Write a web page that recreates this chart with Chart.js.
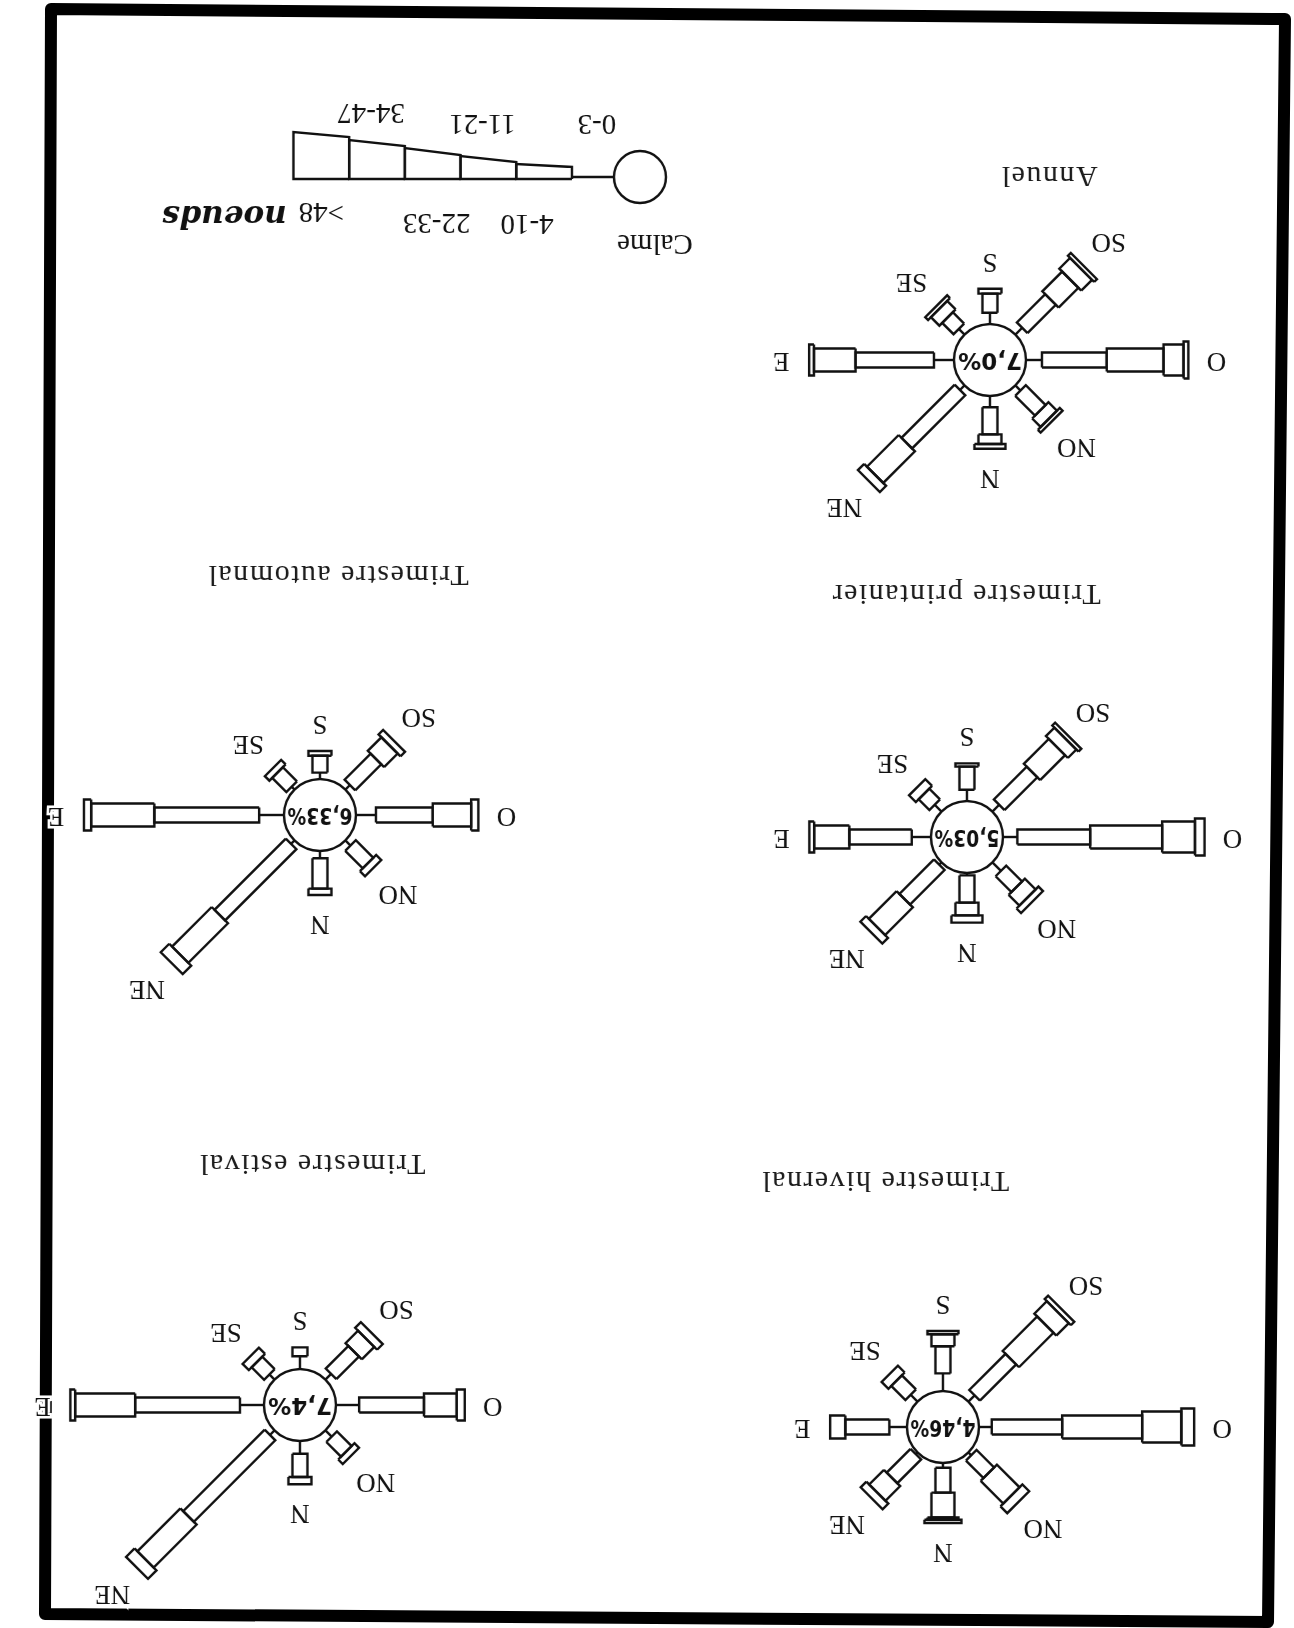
<!DOCTYPE html>
<html><head><meta charset="utf-8">
<script src="https://cdn.jsdelivr.net/npm/chart.js@4.4.1/dist/chart.umd.min.js"></script>
<style>
html,body{margin:0;padding:0;background:#fff;overflow:hidden;}
#page{position:relative;width:1294px;height:1628px;overflow:hidden;background:#fff;}
#sheet{position:absolute;left:0;top:0;width:1294px;height:1628px;transform:rotate(180deg);transform-origin:647px 814px;}
#sheet canvas{position:absolute;}
.title{position:absolute;font-family:"Liberation Serif",serif;font-size:30px;letter-spacing:1.5px;color:#1a1a1a;transform:translate(-50%,-50%);white-space:nowrap;}
#frame{position:absolute;left:0;top:0;pointer-events:none;}
</style></head><body>
<div id="page">
  <svg id="frame" width="1294" height="1628"><polygon points="51,9 1285,19 1268,1622 45,1614" fill="none" stroke="#000" stroke-width="12" stroke-linejoin="round"/></svg>
  <div id="sheet"></div>
</div>
<script>
// ---------- DATA ----------
const directions = ["N","NE","E","SE","S","SO","O","NO"];
const speedClasses = ["0-3","4-10","11-21","22-33","34-47",">48"];
const roseTitles = ["Annuel","Trimestre printanier","Trimestre automnal","Trimestre hivernal","Trimestre estival"];
const calmPercent = [7.0, 5.03, 6.33, 4.46, 7.4];
// frequency (%) per direction (rows: N..NO) and speed class (cols: 0-3 .. >48)
const annuel = [
  [1.4, 3.4, 1.2, 0.6, 0, 0],
  [0.8, 9.4, 5.6, 1.1, 0, 0],
  [2.5, 9.8, 5.2, 0.6, 0, 0],
  [1.0, 2.0, 1.5, 0.5, 0, 0],
  [1.4, 2.4, 0.6, 0, 0, 0],
  [1.2, 5.0, 3.5, 1.9, 0.5, 0],
  [2.0, 8.1, 7.1, 2.5, 0.6, 0],
  [0.9, 3.5, 1.5, 0.5, 0, 0]
];
const printanier = [
  [0.3, 3.4, 1.6, 0.9, 0, 0],
  [0.4, 6.1, 4.9, 1.0, 0, 0],
  [2.4, 7.8, 4.4, 0.6, 0, 0],
  [1.2, 1.9, 1.2, 0, 0, 0],
  [1.4, 2.9, 0.4, 0, 0, 0],
  [1.2, 5.8, 4.4, 1.5, 0.5, 0],
  [1.8, 9.1, 9.0, 4.1, 1.2, 0],
  [1.5, 2.8, 1.9, 0.8, 0, 0]
];
const automnal = [
  [0.9, 3.8, 0.8, 0, 0, 0],
  [0.6, 12.6, 7.0, 1.5, 0, 0],
  [3.1, 13.1, 7.9, 0.9, 0, 0],
  [0.5, 2.5, 0.8, 0, 0, 0],
  [0.8, 2.1, 0.6, 0, 0, 0],
  [0.8, 4.6, 2.4, 0.8, 0, 0],
  [2.5, 7.1, 4.8, 0.9, 0, 0],
  [0.9, 3.1, 0.9, 0, 0, 0]
];
const hivernal = [
  [0.6, 3.1, 3.1, 0.3, 0.4, 0],
  [0.3, 4.2, 2.6, 1.0, 0, 0],
  [2.2, 5.5, 1.9, 0, 0, 0],
  [1.2, 2.5, 1.2, 0, 0, 0],
  [2.2, 3.4, 1.5, 0.4, 0, 0],
  [1.1, 6.4, 6.1, 2.2, 0.6, 0],
  [1.6, 8.8, 10.0, 4.9, 1.6, 0],
  [0.5, 3.1, 4.0, 1.2, 0, 0]
];
const estival = [
  [1.6, 2.9, 0.9, 0, 0, 0],
  [0.8, 14.4, 7.6, 1.5, 0, 0],
  [3.0, 13.1, 7.5, 0.6, 0, 0],
  [0.9, 2.2, 1.1, 0, 0, 0],
  [1.6, 1.1, 0, 0, 0, 0],
  [1.0, 4.0, 2.2, 1.0, 0, 0],
  [2.9, 8.1, 4.1, 1.0, 0, 0],
  [1.1, 2.6, 0.8, 0, 0, 0]
];
const roses = [annuel, printanier, automnal, hivernal, estival];

// ---------- LAYOUT / STYLE (page is drawn upright, then turned 180deg like the scan) ----------
const roseLayout = [
  {cx:304, cy:1268, tx:245, ty:1451},
  {cx:327, cy:791,  tx:328, ty:1033},
  {cx:974, cy:813,  tx:956, ty:1052},
  {cx:351, cy:201,  tx:409, ty:446},
  {cx:994, cy:223,  tx:982, ty:463}
];
const SIZE = 640, RANGE = 40, PPU = SIZE / (2 * RANGE);
const CALM_R_PX = 36;
const WIDTH_PX = [2, 15, 23, 31, 37, 44];
const LINE_W = 2.4;
const ANGLE = {N:90, NE:45, E:0, SE:-45, S:-90, SO:-135, O:180, NO:135};
const INK = '#111';

function fmtPct(v){
  const one = Math.abs(Math.round(v*10) - v*10) < 1e-9;
  return v.toFixed(one ? 1 : 2).replace('.', ',') + '%';
}

function roseDatasets(rows){
  const ds = [];
  const r0 = CALM_R_PX / PPU;
  rows.forEach((vals, i) => {
    const a = ANGLE[directions[i]] * Math.PI / 180;
    const ux = Math.cos(a), uy = Math.sin(a), vx = -uy, vy = ux;
    let r = r0;
    vals.forEach((len, k) => {
      if (len <= 0) return;
      const r1 = r + len;
      if (k === 0) {
        ds.push({data:[{x:r*ux, y:r*uy},{x:r1*ux, y:r1*uy}], showLine:true, borderColor:INK, borderWidth:LINE_W, pointRadius:0, fill:false});
      } else {
        const h = WIDTH_PX[k] / PPU / 2;
        const pts = [[r,-h],[r1,-h],[r1,h],[r,h],[r,-h]].map(([rr,hh]) => ({x:rr*ux + hh*vx, y:rr*uy + hh*vy}));
        ds.push({data:pts, showLine:true, borderColor:INK, borderWidth:LINE_W, pointRadius:0, fill:false});
      }
      r = r1;
    });
  });
  ds.push({data:[{x:0,y:0}], showLine:false, pointRadius:CALM_R_PX, pointBackgroundColor:'#fff', pointBorderColor:INK, pointBorderWidth:LINE_W, borderColor:INK, backgroundColor:'#fff'});
  return ds;
}

function roseTextPlugin(rows, calm){
  return {
    id:'roseText',
    afterDatasetsDraw(chart){
      const {ctx, scales:{x, y}} = chart;
      ctx.save();
      ctx.textAlign = 'center';
      ctx.textBaseline = 'middle';
      ctx.font = '27px "Liberation Serif", serif';
      ctx.lineWidth = 5;
      ctx.strokeStyle = '#fff';
      ctx.fillStyle = INK;
      const r0 = CALM_R_PX / PPU;
      rows.forEach((vals, i) => {
        const d = directions[i];
        const a = ANGLE[d] * Math.PI / 180;
        const tip = r0 + vals.reduce((s,v)=>s+v, 0);
        const gap = (ANGLE[d] % 90 === 0 ? 28 : 35) / PPU;
        const rr = tip + gap;
        const px = x.getPixelForValue(rr*Math.cos(a)), py = y.getPixelForValue(rr*Math.sin(a));
        ctx.strokeText(d, px, py);
        ctx.fillText(d, px, py);
      });
      ctx.font = 'bold 23px "DejaVu Sans", sans-serif';
      ctx.fillText(fmtPct(calm), x.getPixelForValue(0), y.getPixelForValue(0) + 1, CALM_R_PX*1.8);
      ctx.restore();
    }
  };
}

const sheet = document.getElementById('sheet');
const baseOpts = (xr, yr, yRev) => ({
  responsive:false, animation:false, events:[],
  layout:{padding:0, autoPadding:false},
  plugins:{legend:{display:false}, tooltip:{enabled:false}, title:{display:false}},
  elements:{line:{tension:0, borderCapStyle:'butt', borderJoinStyle:'miter'}},
  scales:{
    x:{type:'linear', min:xr[0], max:xr[1], display:false},
    y:{type:'linear', min:yr[0], max:yr[1], display:false, reverse:!!yRev}
  }
});

roses.forEach((rows, i) => {
  const L = roseLayout[i];
  const c = document.createElement('canvas');
  c.width = SIZE; c.height = SIZE;
  c.style.left = (L.cx - SIZE/2) + 'px';
  c.style.top = (L.cy - SIZE/2) + 'px';
  c.style.width = SIZE + 'px'; c.style.height = SIZE + 'px';
  sheet.appendChild(c);
  new Chart(c, {
    type:'scatter',
    data:{datasets:roseDatasets(rows)},
    options:baseOpts([-RANGE, RANGE], [-RANGE, RANGE], false),
    plugins:[roseTextPlugin(rows, calmPercent[i])]
  });
  const t = document.createElement('div');
  t.className = 'title';
  t.textContent = roseTitles[i];
  t.style.left = L.tx + 'px';
  t.style.top = L.ty + 'px';
  sheet.appendChild(t);
});

// ---------- LEGEND (speed classes, knots) ----------
const LEG = {left:560, top:1340, w:580, h:200, cx:94, cy:111, r:26, stem:42, seg:55.7, topY:109,
             labelDx:[-4, 17, 6, -4, 6, 0], labelY:[165, 65, 165, 66, 176, 77], calmX:79, calmY:45};
const legendHeights = [[12,15],[17,23],[24,31],[33,39],[42,47]];
(function(){
  const c = document.createElement('canvas');
  c.width = LEG.w; c.height = LEG.h;
  c.style.left = LEG.left + 'px'; c.style.top = LEG.top + 'px';
  c.style.width = LEG.w + 'px'; c.style.height = LEG.h + 'px';
  sheet.appendChild(c);
  const ds = [];
  const xs = [LEG.cx + LEG.r, LEG.cx + LEG.r + LEG.stem];
  ds.push({data:[{x:xs[0], y:LEG.cy},{x:xs[1], y:LEG.cy}], showLine:true, borderColor:INK, borderWidth:LINE_W, pointRadius:0});
  legendHeights.forEach(([ha, hb], k) => {
    const xa = xs[xs.length-1], xb = xa + LEG.seg;
    xs.push(xb);
    ds.push({data:[{x:xa,y:LEG.topY},{x:xb,y:LEG.topY},{x:xb,y:LEG.topY+hb},{x:xa,y:LEG.topY+ha},{x:xa,y:LEG.topY}],
      showLine:true, borderColor:INK, borderWidth:LINE_W, pointRadius:0});
  });
  ds.push({data:[{x:LEG.cx, y:LEG.cy}], showLine:false, pointRadius:LEG.r, pointBackgroundColor:'#fff', pointBorderColor:INK, pointBorderWidth:LINE_W});
  const legendText = {
    id:'legendText',
    afterDatasetsDraw(chart){
      const {ctx, scales:{x, y}} = chart;
      ctx.save();
      ctx.fillStyle = INK;
      ctx.textBaseline = 'middle';
      const serif = '29px "Liberation Serif", serif';
      ctx.font = serif;
      ctx.textAlign = 'center';
      ctx.fillText('Calme', x.getPixelForValue(LEG.calmX), y.getPixelForValue(LEG.calmY));
      speedClasses.forEach((s, k) => {
        const mid = (xs[k] + xs[k+1]) / 2 + LEG.labelDx[k];
        const ly = y.getPixelForValue(LEG.labelY[k]);
        if (k === speedClasses.length - 1) {
          const px = x.getPixelForValue(mid);
          ctx.fillText(s, px, ly);
          const w = ctx.measureText(s).width;
          ctx.textAlign = 'left';
          ctx.font = 'italic bold 31px "DejaVu Serif", serif';
          ctx.fillText('noeuds', px + w/2 + 12, ly - 3);
          ctx.font = serif;
          ctx.textAlign = 'center';
        } else {
          ctx.fillText(s, x.getPixelForValue(mid), ly);
        }
      });
      ctx.restore();
    }
  };
  new Chart(c, {
    type:'scatter',
    data:{datasets:ds},
    options:baseOpts([0, LEG.w], [0, LEG.h], true),
    plugins:[legendText]
  });
})();
</script>
</body></html>
